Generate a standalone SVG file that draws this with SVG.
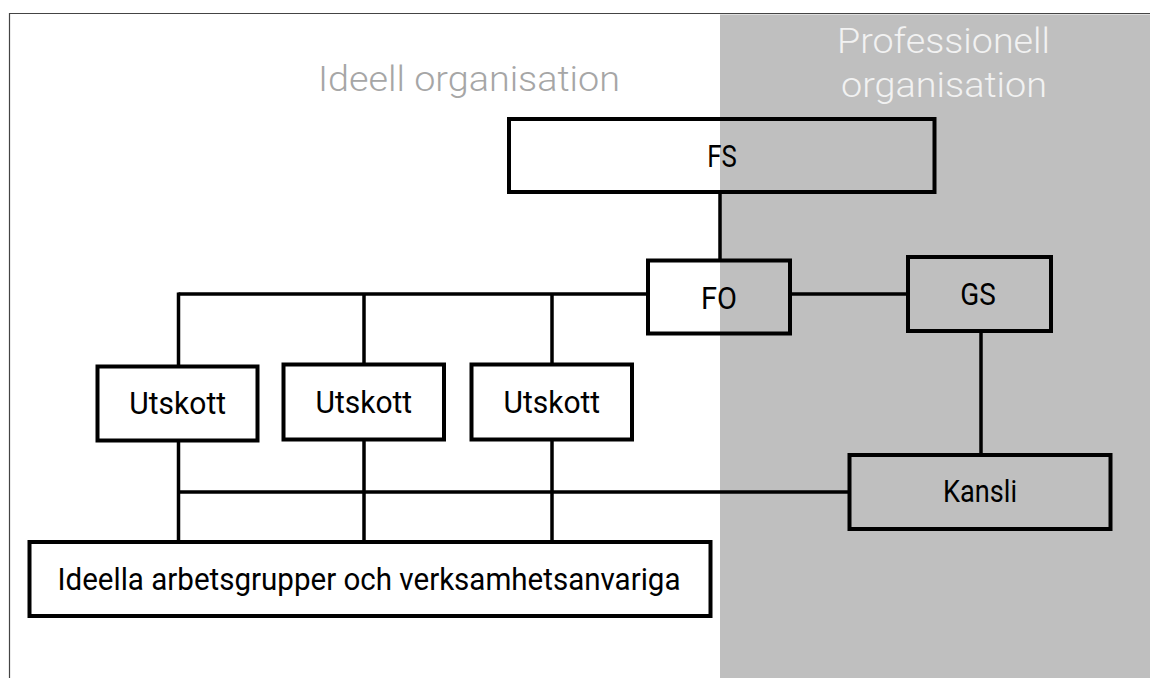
<svg xmlns="http://www.w3.org/2000/svg" width="1150" height="678" viewBox="0 0 1150 678">
<style>
.box{fill:none;stroke:#000;stroke-width:4;stroke-linejoin:miter}
.con{fill:none;stroke:#000;stroke-width:3.5}
.lbl{font-family:Roboto,"Liberation Sans",sans-serif;font-size:32px;fill:#000;text-anchor:middle}
.hdr{font-family:Roboto,"Liberation Sans",sans-serif;font-weight:300;font-size:35px;text-anchor:middle}
</style>
<rect x="0" y="0" width="1150" height="678" fill="#fff"/>
<rect id="professional-zone" x="720" y="14.5" width="430" height="663.5" fill="#bfbfbf"/>
<g id="frame"><path d="M9.5 678 V13.5 H1150" fill="none" stroke="#444" stroke-width="1.2"/></g>
<g id="headers">
<text class="hdr" x="469" y="91" fill="#a6a6a6" textLength="302" lengthAdjust="spacingAndGlyphs">Ideell organisation</text>
<text class="hdr" x="943.5" y="53" fill="#f2f2f2" textLength="213" lengthAdjust="spacingAndGlyphs">Professionell</text>
<text class="hdr" x="944" y="97" fill="#f2f2f2" textLength="206" lengthAdjust="spacingAndGlyphs">organisation</text>
</g>
<g id="connectors">
<line class="con" x1="720" y1="192" x2="720" y2="260"/>
<line class="con" x1="178.5" y1="294" x2="648" y2="294"/>
<line class="con" x1="790" y1="294" x2="908" y2="294"/>
<line class="con" x1="178.5" y1="292.5" x2="178.5" y2="366.5"/>
<line class="con" x1="364" y1="294" x2="364" y2="364.5"/>
<line class="con" x1="552" y1="294" x2="552" y2="364.5"/>
<line class="con" x1="178.5" y1="440.5" x2="178.5" y2="542"/>
<line class="con" x1="364" y1="439.5" x2="364" y2="542"/>
<line class="con" x1="552" y1="439.5" x2="552" y2="542"/>
<line class="con" x1="178.5" y1="492" x2="849" y2="492"/>
<line class="con" x1="981" y1="331" x2="981" y2="455"/>
</g>
<g id="FS">
<rect class="box" x="509" y="119" width="425.5" height="73"/>
<text class="lbl" x="722" y="166.5" textLength="29.5" lengthAdjust="spacingAndGlyphs">FS</text>
</g>
<g id="FO">
<rect class="box" x="648" y="260.5" width="142" height="73"/>
<text class="lbl" x="719" y="309" textLength="36" lengthAdjust="spacingAndGlyphs">FO</text>
</g>
<g id="GS">
<rect class="box" x="908" y="257" width="143" height="74"/>
<text class="lbl" x="978" y="304.5" textLength="35.5" lengthAdjust="spacingAndGlyphs">GS</text>
</g>
<g id="Utskott1">
<rect class="box" x="97.5" y="366.5" width="160" height="74"/>
<text class="lbl" x="177.7" y="414" textLength="96.7" lengthAdjust="spacingAndGlyphs">Utskott</text>
</g>
<g id="Utskott2">
<rect class="box" x="283.5" y="364.5" width="160.5" height="75"/>
<text class="lbl" x="363.8" y="412.7" textLength="96.7" lengthAdjust="spacingAndGlyphs">Utskott</text>
</g>
<g id="Utskott3">
<rect class="box" x="471.5" y="364.5" width="160.5" height="75"/>
<text class="lbl" x="551.8" y="412.7" textLength="96.7" lengthAdjust="spacingAndGlyphs">Utskott</text>
</g>
<g id="Kansli">
<rect class="box" x="849.5" y="455" width="261" height="74"/>
<text class="lbl" x="980" y="502" textLength="74" lengthAdjust="spacingAndGlyphs">Kansli</text>
</g>
<g id="Ideella">
<rect class="box" x="29.5" y="542" width="681" height="74"/>
<text class="lbl" x="369" y="590" textLength="623" lengthAdjust="spacingAndGlyphs">Ideella arbetsgrupper och verksamhetsanvariga</text>
</g>
</svg>
